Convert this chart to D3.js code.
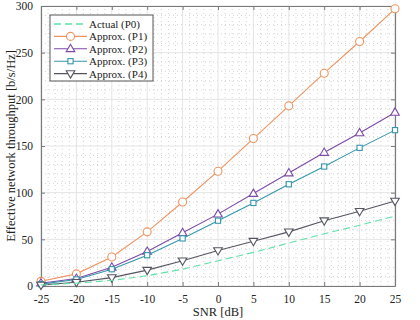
<!DOCTYPE html>
<html>
<head>
<meta charset="utf-8">
<script src="https://cdn.jsdelivr.net/npm/d3@7"></script>
<style>
    body { margin: 0; background: #fff; }
    svg text { font-family: "Liberation Serif", "DejaVu Serif", serif; fill: #222; }
</style>
</head>
<body>
<div id="chart"></div>
<script>
// snr axis, one value per series per point
var snr = [-25, -20, -15, -10, -5, 0, 5, 10, 15, 20, 25];
var actualP0 = [1, 3, 6, 11, 18, 27, 36, 46, 56, 65, 75];
var approxP1 = [5, 13, 31, 58, 90, 123, 158, 193, 228, 262, 297];
var approxP2 = [3, 8, 20, 37, 57, 77, 99, 121, 143, 164, 186];
var approxP3 = [2, 7, 18, 33, 51, 70, 89, 109, 128, 148, 167];
var approxP4 = [1, 4, 9, 17, 27, 38, 48, 58, 70, 80, 91];
var xTicks = [-25, -20, -15, -10, -5, 0, 5, 10, 15, 20, 25];
var yTicks = [0, 50, 100, 150, 200, 250, 300];
var seriesNames = ["Actual (P0)", "Approx. (P1)", "Approx. (P2)", "Approx. (P3)", "Approx. (P4)"];

(function () {
    'use strict';
    var W = 420, H = 320,
        m = {left: 41, right: 25, top: 6, bottom: 34},
        svg = d3.select("#chart").append("svg").attr("width", W).attr("height", H),
        x = d3.scaleLinear().domain([-25, 25]).range([m.left, W - m.right]),
        y = d3.scaleLinear().domain([0, 300]).range([H - m.bottom, m.top]),
        series = [
            {name: seriesNames[0], vals: actualP0, color: "#5fe0a6", dash: "7,4", mark: null},
            {name: seriesNames[1], vals: approxP1, color: "#ee9460", mark: "circle"},
            {name: seriesNames[2], vals: approxP2, color: "#7d4aa8", mark: "up"},
            {name: seriesNames[3], vals: approxP3, color: "#3596ab", mark: "square"},
            {name: seriesNames[4], vals: approxP4, color: "#555562", mark: "down"}
        ];

    // grid //
    var g = svg.append("g");
    g.selectAll(".minx").data(d3.range(-25, 26, 1).filter(function (d) { return d % 5 !== 0; }))
        .enter().append("line")
        .attr("x1", function (d) { return x(d); }).attr("x2", function (d) { return x(d); })
        .attr("y1", y(0)).attr("y2", y(300))
        .attr("stroke", "#c8c8c8").attr("stroke-width", 0.8).attr("stroke-dasharray", "1,3");
    g.selectAll(".miny").data(d3.range(0, 301, 10).filter(function (d) { return d % 50 !== 0; }))
        .enter().append("line")
        .attr("y1", function (d) { return y(d); }).attr("y2", function (d) { return y(d); })
        .attr("x1", x(-25)).attr("x2", x(25))
        .attr("stroke", "#c8c8c8").attr("stroke-width", 0.8).attr("stroke-dasharray", "1,3");
    g.selectAll(".majx").data(xTicks).enter().append("line")
        .attr("x1", function (d) { return x(d); }).attr("x2", function (d) { return x(d); })
        .attr("y1", y(0)).attr("y2", y(300))
        .attr("stroke", "#e4e4e4").attr("stroke-width", 1);
    g.selectAll(".majy").data(yTicks).enter().append("line")
        .attr("y1", function (d) { return y(d); }).attr("y2", function (d) { return y(d); })
        .attr("x1", x(-25)).attr("x2", x(25))
        .attr("stroke", "#e4e4e4").attr("stroke-width", 1);

    // axes, ticks inward on all sides //
    var axCol = "#7a7a7a";
    var fmt = function (d) { return d; };
    var bottom = svg.append("g").attr("transform", "translate(0," + y(0) + ")")
        .call(d3.axisBottom(x).tickValues(xTicks).tickSizeInner(-4).tickSizeOuter(0).tickPadding(9).tickFormat(fmt));
    var top = svg.append("g").attr("transform", "translate(0," + y(300) + ")")
        .call(d3.axisTop(x).tickValues(xTicks).tickSizeInner(-4).tickSizeOuter(0).tickFormat(""));
    var left = svg.append("g").attr("transform", "translate(" + x(-25) + ",0)")
        .call(d3.axisLeft(y).tickValues(yTicks).tickSizeInner(-4).tickSizeOuter(0).tickPadding(8).tickFormat(fmt));
    var right = svg.append("g").attr("transform", "translate(" + x(25) + ",0)")
        .call(d3.axisRight(y).tickValues(yTicks).tickSizeInner(-4).tickSizeOuter(0).tickFormat(""));
    [bottom, top, left, right].forEach(function (a) {
        a.select(".domain").attr("stroke", axCol).attr("stroke-width", 1.2);
        a.selectAll(".tick line").attr("stroke", axCol);
        a.selectAll("text").style("font-family", "Liberation Serif, serif").style("font-size", "11.5px").attr("fill", "#222");
    });

    svg.append("text").attr("x", (x(-25) + x(25)) / 2).attr("y", 316)
        .attr("text-anchor", "middle").style("font-size", "12.5px").text("SNR [dB]");
    svg.append("text").attr("transform", "translate(15," + ((y(0) + y(300)) / 2) + ") rotate(-90)")
        .attr("text-anchor", "middle").style("font-size", "12.5px")
        .text("Effective network throughput [b/s/Hz]");

    // markers //
    var drawMark = function (sel, kind, color) {
        if (kind === "circle") {
            sel.append("circle").attr("r", 4).attr("fill", "#fff").attr("stroke", color).attr("stroke-width", 1.1);
        } else if (kind === "square") {
            sel.append("rect").attr("x", -2.6).attr("y", -2.6).attr("width", 5.2).attr("height", 5.2)
                .attr("fill", "#fff").attr("stroke", color).attr("stroke-width", 1.1);
        } else if (kind === "up") {
            sel.append("path").attr("d", "M0,-4.5L4.3,2.8L-4.3,2.8Z")
                .attr("fill", "#fff").attr("stroke", color).attr("stroke-width", 1.1);
        } else if (kind === "down") {
            sel.append("path").attr("d", "M0,4.5L4.3,-2.8L-4.3,-2.8Z")
                .attr("fill", "#fff").attr("stroke", color).attr("stroke-width", 1.1);
        }
    };

    var line = d3.line().x(function (d, i) { return x(snr[i]); }).y(function (d) { return y(d); });

    // draw approx series first, actual dashed on top at the end
    series.slice(1).concat([series[0]]).forEach(function (s) {
        svg.append("path").datum(s.vals).attr("d", line)
            .attr("fill", "none").attr("stroke", s.color).attr("stroke-width", 1.1)
            .attr("stroke-dasharray", s.dash || null);
        if (s.mark) {
            svg.selectAll(null).data(s.vals).enter().append("g")
                .attr("transform", function (d, i) { return "translate(" + x(snr[i]) + "," + y(d) + ")"; })
                .each(function () { drawMark(d3.select(this), s.mark, s.color); });
        }
    });

    // legend //
    var lg = svg.append("g").attr("transform", "translate(50,15)");
    lg.append("rect").attr("width", 103).attr("height", 66)
        .attr("fill", "#fff").attr("stroke", "#555").attr("stroke-width", 1);
    series.forEach(function (s, i) {
        var row = lg.append("g").attr("transform", "translate(0," + (9 + i * 12.4) + ")");
        row.append("line").attr("x1", 4).attr("x2", 37).attr("y1", 0).attr("y2", 0)
            .attr("stroke", s.color).attr("stroke-width", s.dash ? 1.6 : 1.1)
            .attr("stroke-dasharray", s.dash || null);
        if (s.mark) {
            drawMark(row.append("g").attr("transform", "translate(20.5,0)"), s.mark, s.color);
        }
        row.append("text").attr("x", 39).attr("y", 4).style("font-size", "11px").text(s.name);
    });
}());
</script>
</body>
</html>
